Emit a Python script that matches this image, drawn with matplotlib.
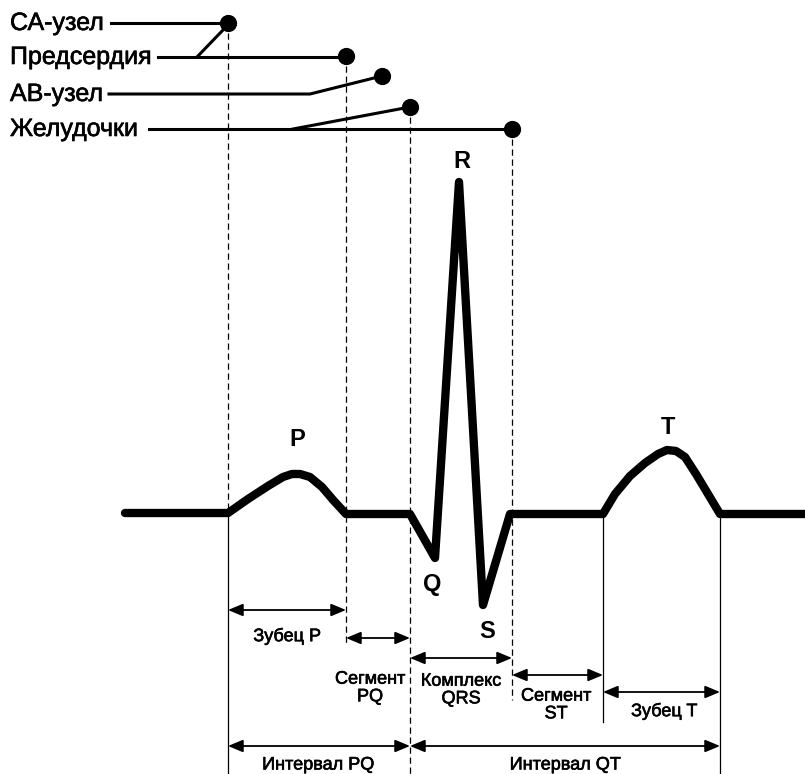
import matplotlib.pyplot as plt
import matplotlib.patheffects as pe

# ECG trace, points (pixel coords, y down)
ecg_x = [125, 228, 248, 268, 283, 292, 300, 310, 322, 334, 346, 410, 435, 459, 483, 510,
         603, 615, 630, 645, 658, 667, 676, 685, 696, 708, 720, 805]
ecg_y = [513, 513, 499, 486, 477, 474, 474, 477, 487, 501, 514, 514, 558, 182, 605, 514,
         514, 494, 476, 463, 454, 450, 451, 457, 474, 494, 514, 514]

# excitation sources: label, label y, dot x, dot y
src_names = ['СА-узел', 'Предсердия', 'АВ-узел', 'Желудочки']
src_text_y = [23, 57, 94, 129]
src_dot_x = [228, 346, 382, 410, 512]
src_dot_y = [23, 56, 76, 107, 129]

# wave letters
wave_names = ['P', 'Q', 'R', 'S', 'T']
wave_x = [297, 432, 462, 487, 668]
wave_y = [440, 585, 162, 632, 428]

# measurement arrows: x0, x1, y, label, label x, label y
spans = [
    (228, 346, 610, 'Зубец P', 287, 636),
    (346, 410, 638, 'Сегмент\nPQ', 370, 688),
    (410, 512, 658, 'Комплекс\nQRS', 461, 690),
    (512, 603, 675, 'Сегмент\nST', 556, 705),
    (603, 720, 692, 'Зубец T', 664, 711),
    (228, 410, 746, 'Интервал PQ', 318, 765),
    (410, 720, 746, 'Интервал QT', 565, 765),
]

plt.rcParams['font.family'] = ['Liberation Sans', 'DejaVu Sans']
heavy = [pe.withStroke(linewidth=0.45, foreground='black')]

fig = plt.figure(figsize=(8.05, 7.74), dpi=100)
ax = fig.add_axes([0, 0, 1, 1])
ax.set_xlim(0, 805)
ax.set_ylim(774, 0)
ax.axis('off')

# guide lines
dash = dict(color='black', lw=0.9, ls=(0, (5, 3)))
ax.plot([228, 228], [23, 513], **dash)
ax.plot([346, 346], [56, 645], **dash)
ax.plot([410, 410], [107, 774], **dash)
ax.plot([512, 512], [129, 700], **dash)
solid = dict(color='black', lw=0.9)
ax.plot([228, 228], [513, 774], **solid)
ax.plot([603, 603], [513, 722], **solid)
ax.plot([720, 720], [513, 774], **solid)

# ECG
ax.plot(ecg_x, ecg_y, color='black', lw=6, solid_joinstyle='round',
        solid_capstyle='round', zorder=3)

# source labels and leader lines
for name, ty in zip(src_names, src_text_y):
    ax.text(10, ty, name, fontsize=18, va='center', ha='left', path_effects=heavy)
ax.plot([111, 228], [23, 23], color='black', lw=2.2)
ax.plot([158, 346], [57, 57], color='black', lw=2.2)
ax.plot([197, 223], [57, 30], color='black', lw=2.2)
ax.plot([109, 310, 382], [94, 94, 76], color='black', lw=2.2)
ax.plot([149, 512], [129, 129], color='black', lw=2.2)
ax.plot([293, 410], [129, 107], color='black', lw=2.2)
ax.scatter(src_dot_x, src_dot_y, s=130, color='black', zorder=4)

for n, x, y in zip(wave_names, wave_x, wave_y):
    ax.text(x, y, n, fontsize=17, fontweight='bold', ha='center', va='center')

for x0, x1, y, lab, lx, ly in spans:
    ax.annotate('', xy=(x1, y), xytext=(x0, y),
                arrowprops=dict(arrowstyle='<|-|>,head_length=0.6,head_width=0.25',
                                color='black', lw=1.3,
                                mutation_scale=15, shrinkA=0, shrinkB=0))
    ax.text(lx, ly, lab, fontsize=13, ha='center', va='center', linespacing=1.05,
            path_effects=heavy)

fig.savefig('out.png', dpi=100, facecolor='white')
